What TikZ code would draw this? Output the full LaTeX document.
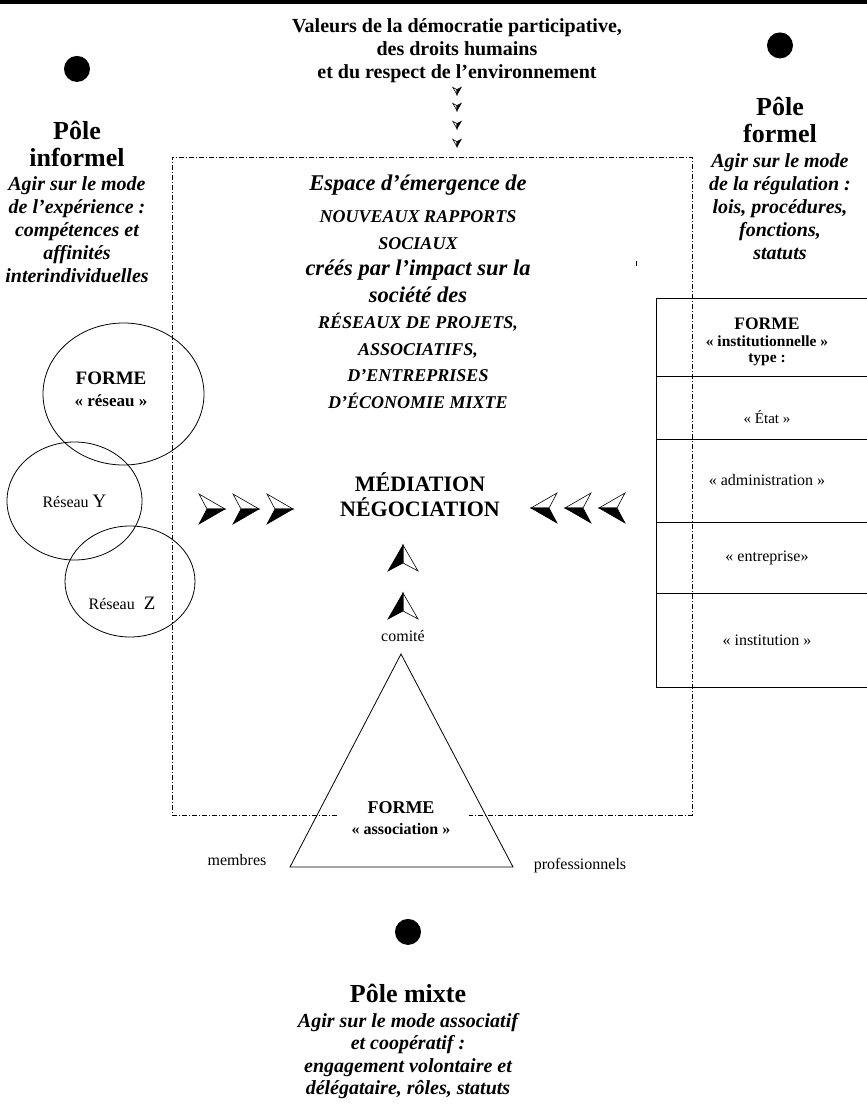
\documentclass[tikz,border=0pt]{standalone}
\usepackage{fontspec}
\setmainfont{Liberation Serif}
\usetikzlibrary{positioning,shapes.geometric}

\newcommand{\capit}[1]{{\fontsize{18}{26.5}\selectfont #1}}

\tikzset{
	fleche/.pic={
		\filldraw[fill=white, line width=0.6pt] (13,0) -- (-13,-15) -- (-5,0) -- cycle;
		\filldraw[fill=black, line width=0.6pt] (13,0) -- (-5,0) -- (-13,15) -- cycle;
	}
}

\begin{document}
\begin{tikzpicture}[x=1pt, y=-1pt, line width=0.8pt, node distance=10pt,
	pole/.style={font=\fontsize{26}{27}\selectfont\bfseries, align=center, inner sep=0pt},
	mode/.style={font=\fontsize{20}{23}\selectfont\bfseries\itshape, align=center, inner sep=0pt},
	point/.style={circle, fill=black, minimum size=26pt, inner sep=0pt},
	cadre/.style={dash pattern=on 5pt off 2pt on 1pt off 2pt},
	bulle/.style={draw, ellipse, inner sep=0pt},
	rangee/.style={draw, minimum width=222pt, inner sep=0pt, outer sep=0pt, align=center, font=\fontsize{16}{18}\selectfont},
	texte/.style={font=\fontsize{16}{18}\selectfont, inner sep=0pt},
	forme/.style={font=\fontsize{18}{21}\selectfont\bfseries, align=center, inner sep=0pt}]
	\useasboundingbox (0,0) rectangle (867,1112);
	\draw[line width=3.5pt] (0,1.75) -- (867,1.75);

	% valeurs
	\node[font=\fontsize{20}{23}\selectfont\bfseries, align=center, inner sep=0pt] (valeurs) at (457,51)
		{Valeurs de la démocratie participative,\\ des droits humains\\ et du respect de l’environnement};
	\foreach \y in {91,107,125,143}
		\pic[shift={(457,\y)}, rotate=-90, yscale=-1, scale=0.28] {fleche};

	% poles
	\node[pole] (pole_inf) at (77,143.5) {Pôle\\ informel};
	\node[point, above=38pt of pole_inf] (pt_inf) {};
	\node[mode, below=of pole_inf] (mode_inf) {Agir sur le mode\\ de l’expérience :\\ compétences et\\ affinités\\ interindividuelles};
	\node[pole] (pole_for) at (780,120) {Pôle\\ formel};
	\node[point, above=38pt of pole_for] (pt_for) {};
	\node[mode, below=of pole_for] (mode_for) {Agir sur le mode\\ de la régulation :\\ lois, procédures,\\ fonctions,\\ statuts};
	\node[pole] (pole_mix) at (408,993) {Pôle mixte};
	\node[point, above=38pt of pole_mix] (pt_mix) {};
	\node[mode, font=\fontsize{20}{22.5}\selectfont\bfseries\itshape, below=of pole_mix] (mode_mix)
		{Agir sur le mode associatif\\ et coopératif :\\ engagement volontaire et\\ délégataire, rôles, statuts};

	% espace
	\draw[cadre] (337,815) -- (172,815) -- (172,157) -- (692,157) -- (692,815) -- (469,815);
	\fill (635.5,261) rectangle (637,266);
	\node[font=\fontsize{22.5}{26.5}\selectfont\bfseries\itshape, align=center, inner sep=0pt] (espace) at (418,292)
		{Espace d’émergence de\\[5.5pt] \capit{NOUVEAUX RAPPORTS}\\ \capit{SOCIAUX}\\ créés par l’impact sur la\\ société des\\
		\capit{RÉSEAUX DE PROJETS,}\\ \capit{ASSOCIATIFS,}\\ \capit{D’ENTREPRISES}\\ \capit{D’ÉCONOMIE MIXTE}};
	\node[font=\fontsize{22}{25}\selectfont\bfseries, align=center, inner sep=0pt] (mediation) at (420,495) {MÉDIATION\\ NÉGOCIATION};
	\foreach \x in {212,246,280}
		\pic[shift={(\x,509)}] {fleche};
	\foreach \x in {544,578,612}
		\pic[shift={(\x,508)}, xscale=-1] {fleche};
	\foreach \y in {558,606}
		\pic[shift={(403,\y)}, rotate=90, yscale=-1] {fleche};

	% forme reseau
	\node[bulle, minimum width=161pt, minimum height=142pt] (freseau) at (123.5,394) {};
	\node[bulle, minimum width=135pt, minimum height=118pt] (reseau_y) at (74.5,501) {};
	\node[bulle, minimum width=130pt, minimum height=111pt] (reseau_z) at (130,581.5) {};
	\node[forme, font=\fontsize{19}{22}\selectfont\bfseries] (t_reseau) at (111,389) {FORME\\ {\fontsize{17}{22}\selectfont « réseau »}};
	\node[texte] (t_y) at (reseau_y) {Réseau {\fontsize{19}{20}\selectfont Y}};
	\node[texte] (t_z) at (122,603) {Réseau\hspace{5pt} {\fontsize{19}{20}\selectfont Z}};

	% forme association
	\coordinate (sommet) at (401,654);
	\coordinate (base_g) at (290,867);
	\coordinate (base_d) at (513,867);
	\draw (sommet) -- (base_g) -- (base_d) -- cycle;
	\node[texte] (comite) at (403,636) {comité};
	\node[forme] (t_asso) at (401,818) {FORME\\ {\fontsize{16}{21}\selectfont « association »}};
	\node[texte] (membres) at (237,860) {membres};
	\node[texte] (pros) at (580,866) {professionnels};

	% forme institutionnelle
	\node[rangee, minimum height=78pt, anchor=north,
		label={[align=center, inner sep=0pt, font=\fontsize{15.5}{16.5}\selectfont\bfseries, yshift=-5pt]center:
		{\fontsize{17.5}{20}\selectfont FORME}\\ « institutionnelle »\\ type :}] (type) at (767,298) {};
	\node[rangee, minimum height=63pt, below=0pt of type,
		label={[texte, font=\fontsize{15}{18}\selectfont, yshift=-10pt]center:« État »}] (etat) {};
	\node[rangee, minimum height=83pt, below=0pt of etat] (admin) {« administration »};
	\node[rangee, minimum height=71pt, below=0pt of admin] (entreprise) {« entreprise»};
	\node[rangee, minimum height=94pt, below=0pt of entreprise] (institution) {« institution »};
\end{tikzpicture}
\end{document}
